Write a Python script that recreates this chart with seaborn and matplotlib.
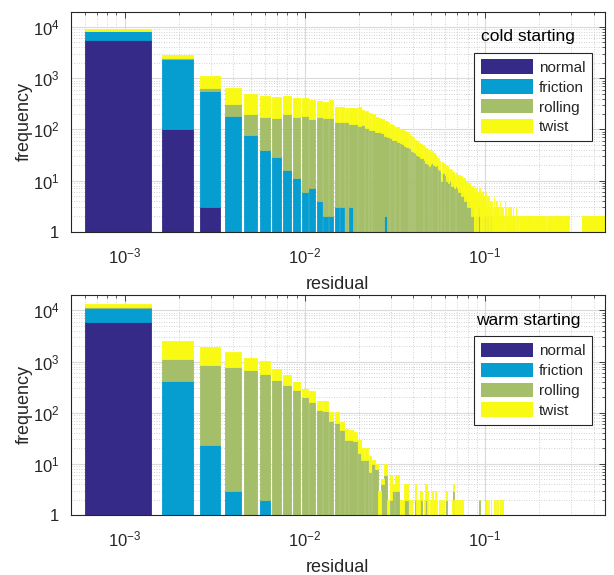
import numpy as np
import pandas as pd
import matplotlib
matplotlib.use("Agg")
import matplotlib.pyplot as plt
import seaborn as sns
from matplotlib.patches import Patch
from matplotlib.ticker import FuncFormatter, LogLocator, NullFormatter

# residual histogram, bins of width 1e-3 centred on k*1e-3 (k = 1..500)
layers = ["normal", "friction", "rolling", "twist"]
colors = ["#352a87", "#069dd0", "#a5be6a", "#f9fa14"]
bin_width = 0.001
n_bins = 500

# ---- cold starting ----
normal_cold = [5650, 100, 3]
friction_cold = [2570, 2300, 557, 182, 78, 40, 29, 16, 11, 6, 7, 4, 2, 2, 3,
                 3, 0, 3, 0, 0, 1, 0, 0, 0, 0, 0, 0, 2]
rolling_cold = [150, 80, 80, 126, 122, 132, 138, 184, 167, 180, 150, 168, 168, 168, 136,
                137, 142, 127, 125, 118, 121, 106, 99, 96, 90, 89, 84, 72, 70, 67,
                63, 61, 57, 55, 51, 47, 45, 43, 38, 36, 35, 31, 30, 28, 27,
                25, 22, 21, 19, 21, 22, 20, 19, 20, 17, 16, 10, 14, 14, 13,
                10, 11, 9, 10, 8, 9, 8, 7, 8, 7, 6, 7, 6, 5, 6,
                5, 4, 5, 4, 3, 4, 3, 3, 2, 3, 2, 1, 2, 0, 2,
                1, 3, 2, 0, 1, 2, 1, 0, 2, 1, 2, 0, 2, 1, 0, 1, 2]
twist_cold = [630, 400, 445, 345, 290, 276, 256, 242, 231, 218, 212, 186, 167, 200, 131,
              128, 120, 128, 137, 154, 119, 120, 106, 102, 86, 79, 74, 72, 70, 61,
              61, 51, 52, 48, 45, 47, 44, 37, 35, 31, 28, 28, 25, 25, 23,
              23, 22, 21, 21, 17, 15, 14, 12, 10, 11, 8, 4, 9, 8, 7,
              9, 8, 8, 7, 8, 6, 7, 6, 6, 6, 6, 6, 5, 7, 5,
              5, 7, 4, 6, 6, 4, 6, 5, 5, 5, 5, 5, 6, 6, 5,
              5, 2, 5, 5, 5, 2, 5, 5, 3, 3, 4, 3, 3, 3, 5, 2, 2,
              3, 4, 2, 3, 5, 2, 3, 2, 4, 3, 2, 3, 2, 4, 2, 3, 2, 2, 3, 1, 2,
              4, 2, 3, 2, 2, 1, 3, 2, 2, 3, 2, 1, 2, 2, 3, 2, 1, 2, 2, 3, 1, 2,
              2, 2, 1, 2, 0, 2, 2, 2, 1, 2, 2, 0, 2, 2, 1, 2, 2, 2, 0, 2, 1, 2, 2, 2,
              0, 2, 2, 1, 2, 2, 2, 0, 1, 2, 2, 2, 1, 2, 0, 2, 2, 1, 2, 2, 0, 2, 2, 2,
              1, 2, 2, 0, 2, 2, 1, 2, 2, 2, 0, 0, 2, 2, 1, 2, 2, 2, 1, 2, 0, 2, 2, 1,
              2, 2, 0, 2, 2, 2, 1, 0, 2, 2, 2, 1, 2, 2, 0, 2, 1, 2, 2, 2, 0, 2, 2, 1,
              2, 0, 2, 2, 1, 2, 2, 2, 0, 2, 2, 1, 0, 2, 2, 2, 1, 2, 0, 2, 2, 2, 1, 2,
              2, 0, 1, 2, 2, 2, 0, 2, 1, 2, 2, 0, 2, 2, 1, 0, 2, 2, 2, 1, 0, 2, 1, 0,
              0, 1, 0, 0, 1, 0, 0, 0, 1, 0, 0, 0, 0, 1, 0, 0, 1, 0, 0, 0, 0, 0, 1, 0, 0,
              1, 0, 0, 0, 1, 0, 0, 0, 0, 1, 0, 0, 0, 1, 0, 0, 0, 0, 0, 1, 0, 0, 1, 0, 0, 0,
              2, 2, 1, 2, 0, 2, 2, 1, 2, 2, 0, 1, 2, 2, 2, 1, 0, 2, 2, 1, 2, 0, 2, 2, 1,
              0, 2, 2, 1, 2, 2, 0, 2, 1, 2, 2, 2, 0, 1, 2, 2, 0, 2, 2, 1, 2, 2, 0, 2, 2,
              1, 2, 0, 2, 2, 2, 1, 0, 2, 2, 1, 2, 2, 0, 2, 1, 2, 2, 0, 2, 2, 1, 0, 2, 2,
              2, 1, 2, 0, 2, 2, 1, 2, 2, 0, 2, 2, 2, 1, 0, 2, 2, 1, 2, 2, 0, 2, 1, 2, 2,
              0, 2, 2, 1, 2, 0, 2, 2, 2, 1, 2, 0, 2, 2, 1, 2, 2, 0, 2, 1, 2, 2, 0, 2, 2]

# ---- warm starting ----
normal_warm = [5900]
friction_warm = [5400, 412, 23, 3, 0, 2]
rolling_warm = [200, 695, 822, 780, 675, 562, 445, 344, 275, 203, 163, 112, 107, 68, 64,
                45, 29, 29, 28, 16, 12, 12, 7, 10, 8, 0, 4, 6, 0, 2,
                3, 3, 3, 0, 1, 2, 2, 0, 1, 0, 2, 0, 1, 2, 0,
                0, 2, 1, 0, 0, 1, 0, 0, 0, 0, 0, 0, 0, 0, 0,
                2, 0, 0, 0, 0, 0, 3, 0, 0, 0, 0, 0, 0, 0, 0,
                0, 0, 0, 0, 0, 0, 0, 0, 0, 0, 0, 0, 0, 0, 0,
                0, 0, 2]
twist_warm = [2030, 1380, 1078, 754, 519, 447, 283, 195, 124, 94, 100, 56, 61, 33, 37,
              21, 20, 16, 14, 13, 8, 8, 7, 2, 2, 3, 1, 4, 2, 4,
              1, 3, 3, 2, 1, 2, 2, 2, 1, 0, 2, 2, 1, 1, 0,
              2, 2, 2, 0, 2, 2, 2, 3, 2, 0, 2, 2, 0, 2, 0,
              1, 0, 0, 0, 0, 2, 1, 2, 2, 0, 2, 2, 0, 2, 2,
              0, 1, 0, 0, 0, 0, 1, 0, 0, 0, 0, 0, 1, 0, 0,
              0, 0, 0, 0, 1, 0, 0, 0, 0, 0,
              2, 2, 1, 2, 2, 0, 0, 2, 0, 0, 0, 0, 2, 0, 2,
              0, 2, 0, 0, 0, 0, 2, 0, 2, 2]


def pad(vals):
    vals = np.asarray(vals, dtype=float)
    return np.concatenate([vals, np.zeros(n_bins - len(vals))])


def long_table(series):
    centers = np.arange(1, n_bins + 1) * bin_width
    frames = [pd.DataFrame({"residual": centers, "count": pad(v), "layer": name})
              for name, v in zip(layers, series)]
    return pd.concat(frames, ignore_index=True)


cold = long_table([normal_cold, friction_cold, rolling_cold, twist_cold])
warm = long_table([normal_warm, friction_warm, rolling_warm, twist_warm])
# plain list: seaborn compares bins to "auto" when weights are given
edges = list((np.arange(n_bins + 1) + 0.5) * bin_width)

sns.set_style("white")
plt.rcParams["font.family"] = ["Liberation Sans", "DejaVu Sans"]
plt.rcParams["mathtext.default"] = "regular"
plt.rcParams["axes.unicode_minus"] = False

fig = plt.figure(figsize=(6.14, 5.75), dpi=100)
ax1 = fig.add_axes([70.5 / 614, 1 - 231.7 / 575, 534 / 614, 220 / 575])
ax2 = fig.add_axes([70.5 / 614, 1 - 515 / 575, 534 / 614, 220 / 575])

palette = dict(zip(layers, colors))
dark = "#262626"


def log_label(v, pos):
    e = int(round(np.log10(v)))
    return "1" if e == 0 else r"$\mathdefault{10^{%d}}$" % e


for ax, df, title, ty in [(ax1, cold, "cold starting", 0.885), (ax2, warm, "warm starting", 0.883)]:
    sns.histplot(data=df, x="residual", weights="count", hue="layer",
                 hue_order=layers[::-1], palette=palette, bins=edges,
                 multiple="stack", shrink=0.8, linewidth=0, alpha=1,
                 legend=False, ax=ax)
    # thin edge in the bar's own colour closes the sub-pixel gaps of narrow bins
    for p in ax.patches:
        p.set_edgecolor(p.get_facecolor())
        p.set_linewidth(0.6)
    ax.set_xscale("log")
    ax.set_yscale("log")
    ax.set_xlim(5e-4, 0.46)
    ax.set_ylim(1, 2e4)
    ax.set_axisbelow(True)
    for a in (ax.xaxis, ax.yaxis):
        a.set_major_locator(LogLocator(base=10, numticks=10))
        a.set_minor_locator(LogLocator(base=10, subs=np.arange(2, 10), numticks=50))
        a.set_major_formatter(FuncFormatter(log_label))
        a.set_minor_formatter(NullFormatter())
    ax.grid(True, which="major", color="#dadada", lw=0.8, ls="-")
    ax.grid(True, which="minor", color="#c4c4c4", lw=0.6, ls=(0, (1, 2)))
    ax.tick_params(which="both", direction="in", top=True, right=True,
                   colors=dark, labelsize=12)
    ax.tick_params(axis="x", which="major", pad=10.5)
    ax.tick_params(axis="y", which="major", pad=8)
    ax.tick_params(which="major", length=4, width=0.6)
    ax.tick_params(which="minor", length=2.5, width=0.5)
    for s in ax.spines.values():
        s.set_color(dark)
        s.set_linewidth(0.8)
    ax.set_xlabel("residual", fontsize=13, color=dark, labelpad=7)
    ax.set_ylabel("frequency", fontsize=13, color=dark, labelpad=0)

    handles = [Patch(facecolor=c, edgecolor="none", label=l) for l, c in zip(layers, colors)]
    leg = ax.legend(handles=handles, loc="upper right", bbox_to_anchor=(0.977, 0.814),
                    borderaxespad=0, frameon=True, fancybox=False, framealpha=1,
                    edgecolor=dark, fontsize=11, handlelength=3.4, handleheight=1.05,
                    labelspacing=0.3, borderpad=0.45, handletextpad=0.4)
    leg.get_frame().set_linewidth(0.8)
    ax.text(0.857, ty, title, transform=ax.transAxes, ha="center", va="center",
            fontsize=12.5, color="black")

fig.savefig("out.png", dpi=100)
